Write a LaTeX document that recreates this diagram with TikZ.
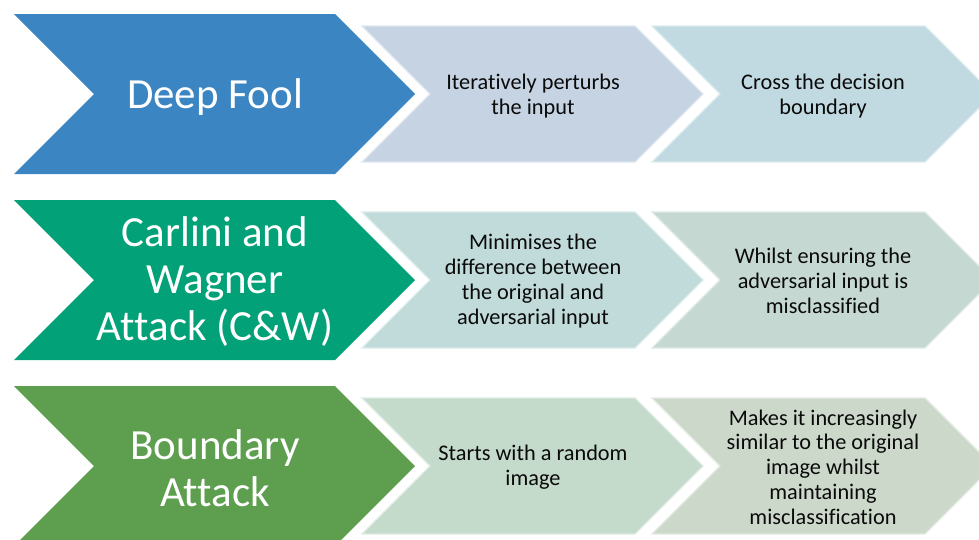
\documentclass[tikz,border=0pt]{standalone}
\usepackage{fontspec}
\setmainfont{Carlito}[Ligatures=NoCommon]
\definecolor{headA}{RGB}{59,134,194}
\definecolor{headB}{RGB}{2,161,119}
\definecolor{headC}{RGB}{94,158,79}
\definecolor{stepAa}{RGB}{197,211,227}
\definecolor{stepAb}{RGB}{193,217,224}
\definecolor{stepBa}{RGB}{192,219,218}
\definecolor{stepBb}{RGB}{197,217,210}
\definecolor{stepCa}{RGB}{196,218,203}
\definecolor{stepCb}{RGB}{204,217,202}
\definecolor{inktext}{RGB}{10,10,10}
% chevron: #1 left x, #2 centre y, #3 top edge length, #4 half height, #5 style
\newcommand\chevshape[5]{%
  \path[#5] (#1,#2-#4) -- ++(#3,0) -- ++(#4,#4) -- ++(-#4,#4) -- ++(-#3,0)
    -- ++(#4,-#4) -- cycle;}
\tikzset{
  headshape/.style={fill=#1},
  stepshape/.style={fill=#1, draw=white!45!#1, line width=1.2pt},
  headtext/.style={text=white, align=center, font=\fontsize{43}{47}\selectfont, inner sep=0pt},
  steptext/.style={text=inktext, align=center, font=\fontsize{22.3}{24.8}\selectfont, inner sep=0pt},
}
\begin{document}
\begin{tikzpicture}[x=1pt, y=-1pt]
\useasboundingbox (0,0) rectangle (979,539);
\clip (0,0) rectangle (979,539);
\fill[white] (0,0) rectangle (979,539);

% row 1: Deep Fool
\chevshape{14}{94}{321}{80}{headshape=headA}
\chevshape{362}{94}{273}{68}{stepshape=stepAa}
\chevshape{652}{94}{273}{68}{stepshape=stepAb}
\node[headtext] (deepfool) at (215,97) {Deep Fool};
\node[steptext] (dfone) at (533,96) {Iteratively perturbs\\the input};
\node[steptext] (dftwo) at (823,96) {Cross the decision\\boundary};

% row 2: Carlini and Wagner
\chevshape{14}{280}{321}{80}{headshape=headB}
\chevshape{362}{280}{273}{68}{stepshape=stepBa}
\chevshape{652}{280}{273}{68}{stepshape=stepBb}
\node[headtext] (cw) at (215,282) {Carlini and\\Wagner\\Attack (C\&W)};
\node[steptext] (cwone) at (533,281) {Minimises the\\difference between\\the original and\\adversarial input};
\node[steptext] (cwtwo) at (823,281) {Whilst ensuring the\\adversarial input is\\misclassified};

% row 3: Boundary Attack
\chevshape{14}{466}{321}{80}{headshape=headC}
\chevshape{362}{466}{273}{68}{stepshape=stepCa}
\chevshape{652}{466}{273}{68}{stepshape=stepCb}
\node[headtext] (boundary) at (215,468) {Boundary\\Attack};
\node[steptext] (baone) at (533,467) {Starts with a random\\image};
\node[steptext] (batwo) at (823,467) {Makes it increasingly\\similar to the original\\image whilst\\maintaining\\misclassification};
\end{tikzpicture}
\end{document}
